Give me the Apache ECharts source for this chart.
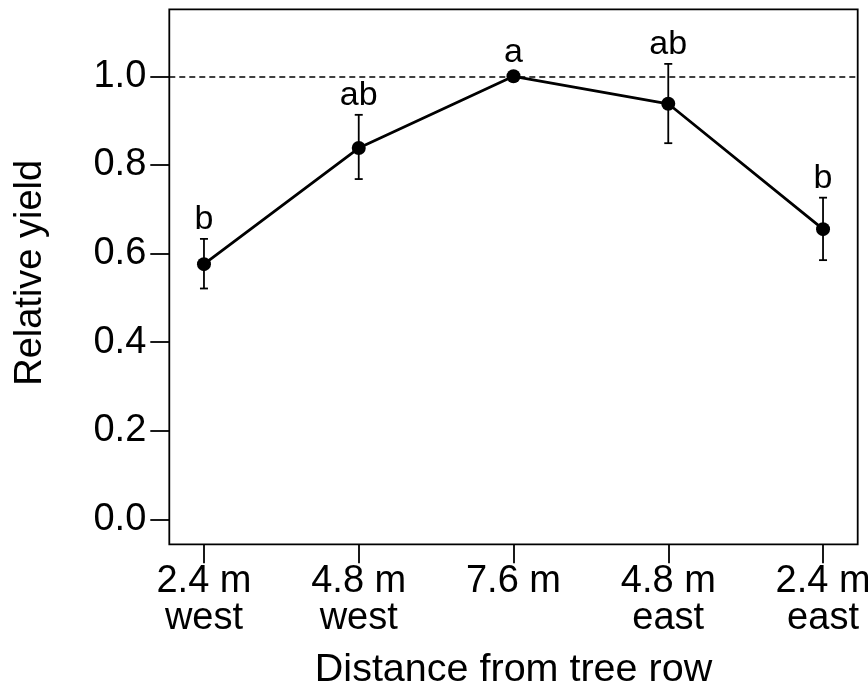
<!DOCTYPE html>
<html>
<head>
<meta charset="utf-8">
<script src="https://cdn.jsdelivr.net/npm/echarts@6/dist/echarts.min.js"></script>
<style>html,body{margin:0;padding:0;background:#fff;}#c{width:868px;height:690px;}</style>
</head>
<body>
<div id="c"></div>
<script>
const positions = [1, 2, 3, 4, 5];
const tickLabels = ['2.4 m\nwest', '4.8 m\nwest', '7.6 m', '4.8 m\neast', '2.4 m\neast'];
const meanYield = [0.576, 0.838, 1.0, 0.938, 0.655];
const lowerErr = [0.521, 0.768, 1.0, 0.849, 0.585];
const upperErr = [0.633, 0.913, 1.0, 1.028, 0.726];
const letters = ['b', 'ab', 'a', 'ab', 'b'];
const yTicks = [0, 0.2, 0.4, 0.6, 0.8, 1.0];
const referenceLine = 1.0;

const FONT = 'Liberation Sans, Arial, Helvetica, sans-serif';
const chart = echarts.init(document.getElementById('c'));

const lineData = positions.map((x, i) => [x, meanYield[i]]);
const errData = positions.map((x, i) => [x, lowerErr[i], upperErr[i]]);
const letterData = positions.map((x, i) => ({
  value: [x, Math.max(upperErr[i], meanYield[i])],
  label: { distance: upperErr[i] > meanYield[i] ? 2 : 7 }
}));

chart.setOption({
  animation: false,
  backgroundColor: '#fff',
  grid: { left: 169.3, right: 10.3, top: 9.3, bottom: 145.7, containLabel: false, outerBoundsMode: 'none', show: true, borderColor: '#000', borderWidth: 1.8, backgroundColor: 'transparent' },
  xAxis: {
    type: 'value', min: 0.776, max: 5.224,
    splitLine: { show: false },
    axisLine: { show: false, onZero: false },
    axisTick: { show: true, length: 19, lineStyle: { color: '#000', width: 1.8 }, customValues: positions },
    axisLabel: {
      customValues: positions,
      formatter: v => tickLabels[Math.round(v) - 1] || '',
      fontFamily: FONT, fontSize: 38, color: '#000', margin: 19, lineHeight: 37
    },
    name: 'Distance from tree row', nameLocation: 'middle', nameGap: 106,
    nameTextStyle: { fontFamily: FONT, fontSize: 39.5, color: '#000' }
  },
  yAxis: {
    type: 'value', min: -0.0564, max: 1.1512,
    splitLine: { show: false },
    axisLine: { show: false, onZero: false },
    axisTick: { show: true, length: 19, lineStyle: { color: '#000', width: 1.8 }, customValues: yTicks },
    axisLabel: {
      customValues: yTicks,
      formatter: v => v.toFixed(1),
      fontFamily: FONT, fontSize: 38, color: '#000', margin: 23
    },
    name: 'Relative yield', nameLocation: 'middle', nameGap: 120, nameRotate: 90,
    nameTextStyle: { fontFamily: FONT, fontSize: 38, color: '#000', padding: [0, 0, 0, 8] }
  },
  series: [
    {
      type: 'custom',
      data: errData,
      z: 3,
      renderItem: function (params, api) {
        const x = api.value(0);
        const lo = api.coord([x, api.value(1)]);
        const hi = api.coord([x, api.value(2)]);
        if (Math.abs(lo[1] - hi[1]) < 0.5) return null;
        const w = 4;
        const style = { stroke: '#000', lineWidth: 1.8, fill: null };
        return {
          type: 'group',
          children: [
            { type: 'line', shape: { x1: lo[0], y1: lo[1], x2: hi[0], y2: hi[1] }, style },
            { type: 'line', shape: { x1: lo[0] - w, y1: lo[1], x2: lo[0] + w, y2: lo[1] }, style },
            { type: 'line', shape: { x1: hi[0] - w, y1: hi[1], x2: hi[0] + w, y2: hi[1] }, style }
          ]
        };
      }
    },
    {
      type: 'line',
      data: lineData,
      z: 4,
      symbol: 'circle', symbolSize: 14,
      lineStyle: { color: '#000', width: 2.8 },
      itemStyle: { color: '#000' },
      markLine: {
        silent: true, symbol: 'none', label: { show: false },
        lineStyle: { color: '#000', type: [6, 4], width: 1.5 },
        data: [{ yAxis: referenceLine }]
      }
    },
    {
      type: 'scatter',
      data: letterData,
      symbolSize: 0,
      z: 5,
      itemStyle: { opacity: 1, color: '#000' },
      label: {
        show: true, position: 'top',
        formatter: p => letters[p.dataIndex],
        fontFamily: FONT, fontSize: 34, color: '#000'
      }
    }
  ]
});
</script>
</body>
</html>
